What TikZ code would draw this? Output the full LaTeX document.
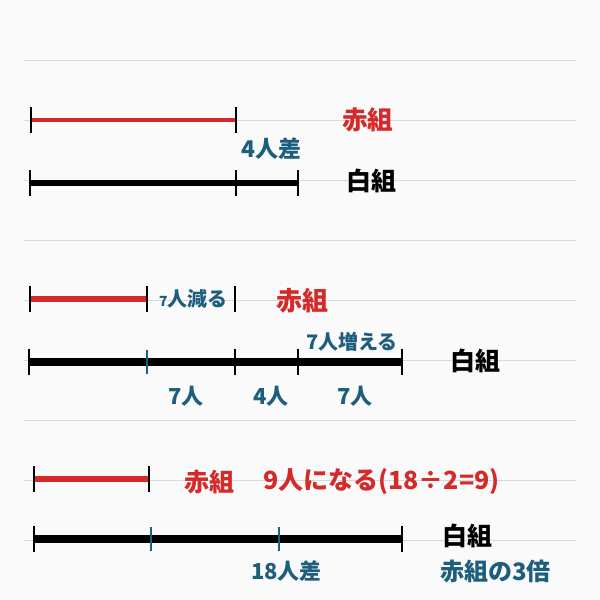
\documentclass[tikz,border=0pt]{standalone}
\usepackage{fontspec}
\setmainfont{Noto Sans CJK JP}
\usetikzlibrary{positioning}
\definecolor{akared}{HTML}{D42A2A}
\definecolor{tealblue}{HTML}{1D5E7C}
\definecolor{rulegray}{HTML}{D9D9D9}
\definecolor{paper}{HTML}{FAFAFA}
\tikzset{
    ruleline/.style = {draw=rulegray, line width=1pt},
    redbar/.style = {draw=akared, line width=5pt},
    whitebar/.style = {draw=black, line width=7pt},
    tickmark/.style = {draw=black, line width=2.2pt},
    subtick/.style = {draw=tealblue, line width=1.3pt},
    redlabel/.style = {text=akared, anchor=west, inner sep=0pt,
                 font=\fontsize{25}{25}\selectfont\bfseries},
    blacklabel/.style = {text=black, anchor=west, inner sep=0pt,
                 font=\fontsize{25}{25}\selectfont\bfseries},
    note/.style = {text=tealblue, anchor=west, inner sep=0pt,
                 font=\fontsize{20}{20}\selectfont\bfseries},
    bignote/.style = {note, font=\fontsize{22}{22}\selectfont\bfseries},
}
\newcommand{\smallseven}{{\fontsize{14}{14}\selectfont 7}}

\begin{document}
\begin{tikzpicture}[x=1pt,y=-1pt]
\fill[paper] (0,0) rectangle (600,600);
\useasboundingbox (0,0) rectangle (600,600);
\foreach \y in {60,120,...,540}
    \draw[ruleline] (24,\y) -- (576,\y);

% first: 4 people apart
\coordinate (r1a) at (31,120);
\coordinate (r1b) at (236,120);
\coordinate (w1a) at (30,183);
\coordinate (w1b) at (236,183);
\coordinate (w1c) at (298,183);
\draw[redbar,line width=4pt] (r1a) -- (r1b);
\draw[whitebar,line width=6pt] (w1a) -- (w1c);
\foreach \p in {r1a,r1b,w1a,w1b,w1c}
    \draw[tickmark] ([yshift=13pt]\p) -- ([yshift=-13pt]\p);
\node (red1) [redlabel,font=\fontsize{25.5}{25.5}\selectfont\bfseries] at (342,120) {赤組};
\node (diff1) [note,font=\fontsize{23}{23}\selectfont\bfseries] at (241,149) {4人差};
\node (white1) [blacklabel] at (346,181) {白組};

% second: 7 move over
\coordinate (r2a) at (30,299);
\coordinate (r2b) at (147,299);
\coordinate (r2c) at (235,299);
\coordinate (w2a) at (29,362);
\coordinate (w2b) at (147,362);
\coordinate (w2c) at (235,362);
\coordinate (w2d) at (298,362);
\coordinate (w2e) at (402,362);
\draw[redbar,line width=6pt] (r2a) -- (r2b);
\draw[whitebar,line width=8pt] (w2a) -- (w2e);
\foreach \p in {r2a,r2b,r2c,w2a,w2c,w2d,w2e}
    \draw[tickmark] ([yshift=13pt]\p) -- ([yshift=-13pt]\p);
\draw[subtick] ([yshift=12pt]w2b) -- ([yshift=-12pt]w2b);
\node (minus2) [note] at (159,299) {\smallseven 人減る};
\node (red2) [redlabel,font=\fontsize{26}{26}\selectfont\bfseries] at (276,301) {赤組};
\node (plus2) [note] at (306,342) {7人増える};
\node (white2) [blacklabel] at (450,361) {白組};
\node (seg2a) [bignote] at (168,396) {7人};
\node (seg2b) [bignote] at (253,396) {4人};
\node (seg2c) [bignote] at (337,396) {7人};

% third: three times
\coordinate (r3a) at (34,479);
\coordinate (r3b) at (149,479);
\coordinate (w3a) at (34,539);
\coordinate (w3b) at (151,539);
\coordinate (w3c) at (279,539);
\coordinate (w3d) at (402,539);
\draw[redbar,line width=6pt] (r3a) -- (r3b);
\draw[whitebar,line width=8pt] (w3a) -- (w3d);
\foreach \p in {r3a,r3b,w3a,w3d}
    \draw[tickmark] ([yshift=13pt]\p) -- ([yshift=-13pt]\p);
\foreach \p in {w3b,w3c}
    \draw[subtick] ([yshift=12pt]\p) -- ([yshift=-12pt]\p);
\node (red3) [redlabel] at (184,482) {赤組};
\node (nine3) [redlabel] at (263,482) {9人になる(18÷2=9)};
\node (white3) [blacklabel] at (442,536) {白組};
\node (diff3) [bignote] at (251,571) {18人差};
\node (times3) [bignote,font=\fontsize{24}{24}\selectfont\bfseries] at (440,571) {赤組の3倍};
\end{tikzpicture}
\end{document}
